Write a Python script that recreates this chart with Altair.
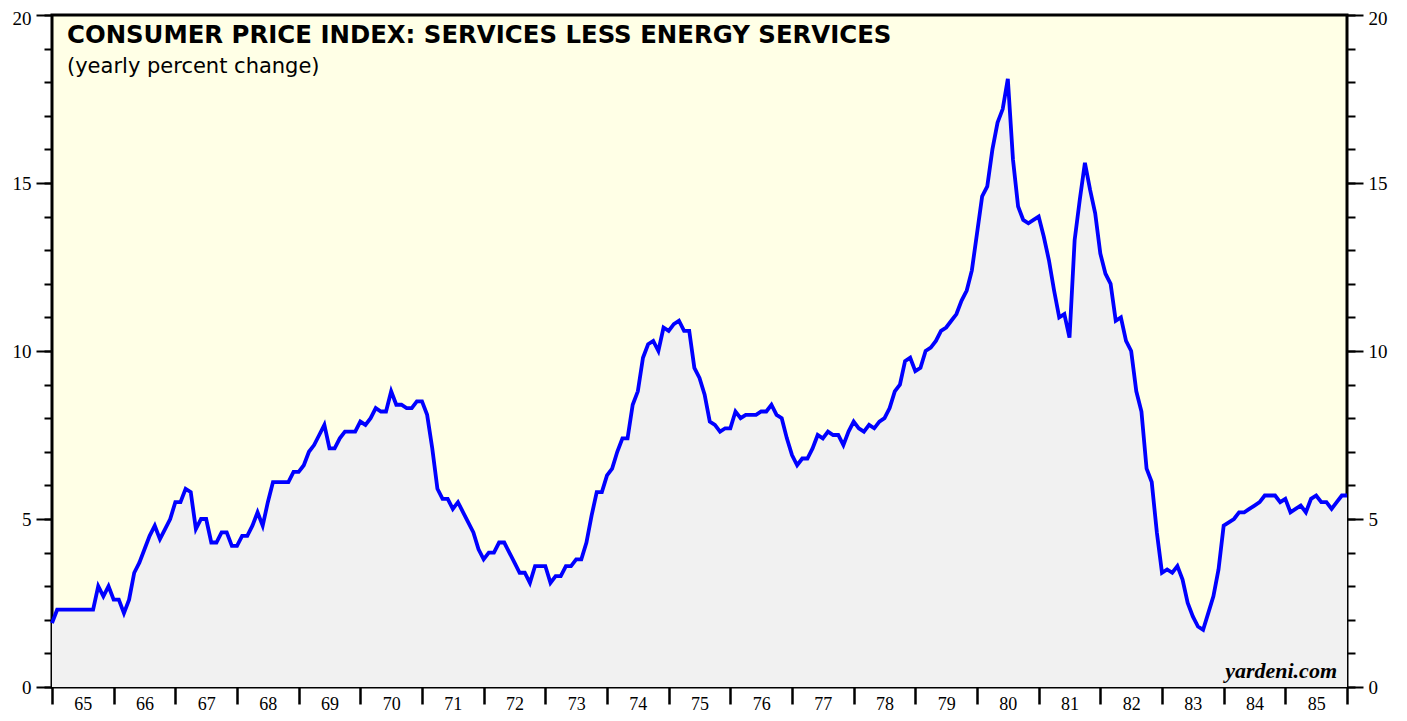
import altair as alt
import pandas as pd

# Monthly yearly-percent-change values, Jan 1965 ... Jan 1986
y1965 = [1.9, 2.3, 2.3, 2.3, 2.3, 2.3, 2.3, 2.3, 2.3, 3.0, 2.7, 3.0]
y1966 = [2.6, 2.6, 2.2, 2.6, 3.4, 3.7, 4.1, 4.5, 4.8, 4.4, 4.7, 5.0]
y1967 = [5.5, 5.5, 5.9, 5.8, 4.7, 5.0, 5.0, 4.3, 4.3, 4.6, 4.6, 4.2]
y1968 = [4.2, 4.5, 4.5, 4.8, 5.2, 4.8, 5.5, 6.1, 6.1, 6.1, 6.1, 6.4]
y1969 = [6.4, 6.6, 7.0, 7.2, 7.5, 7.8, 7.1, 7.1, 7.4, 7.6, 7.6, 7.6]
y1970 = [7.9, 7.8, 8.0, 8.3, 8.2, 8.2, 8.8, 8.4, 8.4, 8.3, 8.3, 8.5]
y1971 = [8.5, 8.1, 7.1, 5.9, 5.6, 5.6, 5.3, 5.5, 5.2, 4.9, 4.6, 4.1]
y1972 = [3.8, 4.0, 4.0, 4.3, 4.3, 4.0, 3.7, 3.4, 3.4, 3.1, 3.6, 3.6]
y1973 = [3.6, 3.1, 3.3, 3.3, 3.6, 3.6, 3.8, 3.8, 4.3, 5.1, 5.8, 5.8]
y1974 = [6.3, 6.5, 7.0, 7.4, 7.4, 8.4, 8.8, 9.8, 10.2, 10.3, 10.0, 10.7]
y1975 = [10.6, 10.8, 10.9, 10.6, 10.6, 9.5, 9.2, 8.7, 7.9, 7.8, 7.6, 7.7]
y1976 = [7.7, 8.2, 8.0, 8.1, 8.1, 8.1, 8.2, 8.2, 8.4, 8.1, 8.0, 7.4]
y1977 = [6.9, 6.6, 6.8, 6.8, 7.1, 7.5, 7.4, 7.6, 7.5, 7.5, 7.2, 7.6]
y1978 = [7.9, 7.7, 7.6, 7.8, 7.7, 7.9, 8.0, 8.3, 8.8, 9.0, 9.7, 9.8]
y1979 = [9.4, 9.5, 10.0, 10.1, 10.3, 10.6, 10.7, 10.9, 11.1, 11.5, 11.8, 12.4]
y1980 = [13.5, 14.6, 14.9, 16.0, 16.8, 17.2, 18.1, 15.7, 14.3, 13.9, 13.8, 13.9]
y1981 = [14.0, 13.4, 12.7, 11.8, 11.0, 11.1, 10.4, 13.3, 14.5, 15.6, 14.8, 14.1]
y1982 = [12.9, 12.3, 12.0, 10.9, 11.0, 10.3, 10.0, 8.8, 8.2, 6.5, 6.1, 4.6]
y1983 = [3.4, 3.5, 3.4, 3.6, 3.2, 2.5, 2.1, 1.8, 1.7, 2.2, 2.7, 3.5]
y1984 = [4.8, 4.9, 5.0, 5.2, 5.2, 5.3, 5.4, 5.5, 5.7, 5.7, 5.7, 5.5]
y1985 = [5.6, 5.2, 5.3, 5.4, 5.2, 5.6, 5.7, 5.5, 5.5, 5.3, 5.5, 5.7]
y1986 = [5.7]

start_year = 1965
year_ticks = list(range(1965, 1987))
y_major = [0, 5, 10, 15, 20]
y_minor = list(range(0, 21))

title_text = "CONSUMER PRICE INDEX: SERVICES LESS ENERGY SERVICES"
subtitle_text = "(yearly percent change)"
source_text = "yardeni.com"

values = (y1965 + y1966 + y1967 + y1968 + y1969 + y1970 + y1971 + y1972 + y1973
          + y1974 + y1975 + y1976 + y1977 + y1978 + y1979 + y1980 + y1981 + y1982
          + y1983 + y1984 + y1985 + y1986)
df = pd.DataFrame({"t": [start_year + i / 12 for i in range(len(values))], "v": values})

xscale = alt.Scale(domain=[1965, 1986], nice=False, zero=False)
yscale = alt.Scale(domain=[0, 20], nice=False, zero=True)

x_axis = alt.Axis(
    orient="bottom", values=year_ticks, format="d",
    labelExpr="datum.value < 1986 ? substring(datum.label, 2, 4) : ''",
    labelOffset=30.8, tickSize=17, tickWidth=2.5, tickColor="black",
    domain=False, grid=False, labelFont="Liberation Serif", labelFontSize=18,
    labelColor="black", labelBaseline="alphabetic", labelPadding=5,
    labelFlush=False, labelOverlap=False, title=None,
)


def yaxis(orient, vals, size, labels):
    kw = dict(orient=orient, values=vals, tickSize=size, tickWidth=2, tickColor="black",
              domain=False, grid=False, title=None)
    if labels:
        kw.update(labelFont="Liberation Serif", labelFontSize=19, labelColor="black",
                  labelPadding=5, labelFlush=False, labelOverlap=False,
                  labelOffset={"condition": {"test": "datum.value == 20", "value": 3},
                               "value": 0})
    else:
        kw.update(labels=False)
    return alt.Axis(**kw)


base = alt.Chart(df)

minor_left = base.mark_line(opacity=0).encode(
    x=alt.X("t:Q", scale=xscale, axis=None),
    y=alt.Y("v:Q", scale=yscale, axis=yaxis("left", y_minor, 8, False)),
)
minor_right = base.mark_line(opacity=0).encode(
    x=alt.X("t:Q", scale=xscale, axis=None),
    y=alt.Y("v:Q", scale=yscale, axis=yaxis("right", y_minor, 8, False)),
)
area = base.mark_area(color="#F1F1F1").encode(
    x=alt.X("t:Q", scale=xscale, axis=x_axis),
    y=alt.Y("v:Q", scale=yscale, axis=yaxis("left", y_major, 16, True)),
)
line = base.mark_line(color="#0000FF", strokeWidth=3.8).encode(
    x=alt.X("t:Q", scale=xscale, axis=None),
    y=alt.Y("v:Q", scale=yscale, axis=yaxis("right", y_major, 16, True)),
)

title = alt.Chart(pd.DataFrame({"s": [title_text]})).mark_text(
    font="DejaVu Sans", fontWeight="bold", fontSize=24.4, align="left",
    baseline="alphabetic", color="black",
).encode(x=alt.value(15), y=alt.value(28), text="s:N")

subtitle = alt.Chart(pd.DataFrame({"s": [subtitle_text]})).mark_text(
    font="DejaVu Sans", fontSize=21, align="left", baseline="alphabetic", color="black",
).encode(x=alt.value(15), y=alt.value(58), text="s:N")

source = alt.Chart(pd.DataFrame({"s": [source_text]})).mark_text(
    font="Liberation Serif", fontWeight="bold", fontStyle="italic", fontSize=22,
    align="right", baseline="alphabetic", color="black",
).encode(x=alt.value(1285), y=alt.value(663), text="s:N")

chart = (
    alt.layer(minor_left, minor_right, area, line, title, subtitle, source)
    .resolve_axis(y="independent", x="independent")
    .properties(
        width=1295, height=672,
        autosize=alt.AutoSizeParams(type="none"),
        padding={"left": 44, "top": 7, "right": 52, "bottom": 26},
        background="white",
    )
    .configure_view(fill="#FFFFE6", stroke="black", strokeWidth=3)
)

chart.save("out.html", embed_options={"renderer": "svg", "actions": False})
